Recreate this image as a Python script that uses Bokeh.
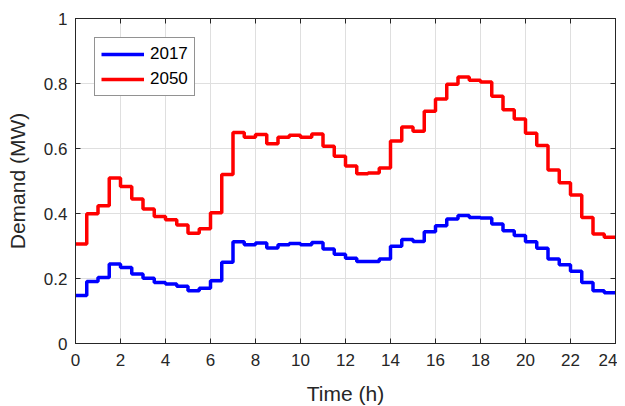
import numpy as np
from bokeh.plotting import figure
from bokeh.models import LinearAxis, FixedTicker, Legend, LegendItem, Range1d, CustomJSTickFormatter
from bokeh.embed import file_html
from bokeh.resources import INLINE

# Half-hourly demand (MW), 48 steps from 0 h to 24 h
demand_2017 = [0.148, 0.191, 0.203, 0.245, 0.234, 0.214, 0.201, 0.188, 0.183, 0.176,
               0.162, 0.170, 0.193, 0.250, 0.313, 0.304, 0.309, 0.294, 0.304, 0.308,
               0.304, 0.311, 0.291, 0.275, 0.262, 0.252, 0.252, 0.260, 0.299, 0.320,
               0.314, 0.344, 0.362, 0.383, 0.394, 0.388, 0.386, 0.368, 0.347, 0.332,
               0.313, 0.293, 0.260, 0.242, 0.222, 0.188, 0.162, 0.156]
demand_2050 = [0.306, 0.399, 0.424, 0.509, 0.483, 0.445, 0.414, 0.391, 0.381, 0.365,
               0.339, 0.353, 0.402, 0.520, 0.649, 0.635, 0.643, 0.615, 0.635, 0.641,
               0.635, 0.645, 0.607, 0.576, 0.546, 0.522, 0.525, 0.540, 0.623, 0.666,
               0.653, 0.715, 0.752, 0.798, 0.820, 0.810, 0.805, 0.761, 0.719, 0.691,
               0.647, 0.609, 0.534, 0.495, 0.457, 0.388, 0.337, 0.327]
step_hours = 0.5
x_ticks = [0, 2, 4, 6, 8, 10, 12, 14, 16, 18, 20, 22, 24]
y_ticks = [0, 0.2, 0.4, 0.6, 0.8, 1]
y_tick_labels = ["0", "0.2", "0.4", "0.6", "0.8", "1"]
series_names = ["2017", "2050"]
series_colors = ["#0000ff", "#ff0000"]

FONT = "Liberation Sans"
TXT = "#262626"

p = figure(frame_width=540, frame_height=325, output_backend="svg", toolbar_location=None,
           x_range=Range1d(0, 24), y_range=Range1d(0, 1),
           min_border_left=75, min_border_right=2, min_border_top=18, min_border_bottom=55)
p.background_fill_color = "white"
p.border_fill_color = "white"
p.outline_line_color = TXT
p.outline_line_width = 1

renderers = []
for vals, color in zip([demand_2017, demand_2050], series_colors):
    xs = [i * step_hours for i in range(len(vals) + 1)]
    ys = list(vals) + [vals[-1]]
    r = p.step(xs, ys, mode="after", line_color=color, line_width=3.5)
    renderers.append(r)

def style_axis(ax, labels=True):
    ax.axis_line_color = TXT
    ax.major_tick_line_color = TXT
    ax.major_tick_in = 5
    ax.major_tick_out = 0
    ax.minor_tick_line_color = None
    ax.major_label_text_font = FONT
    ax.major_label_text_color = TXT
    ax.axis_label_text_font = FONT
    ax.axis_label_text_color = TXT
    ax.axis_label_text_font_style = "normal"
    ax.major_label_text_font_size = "17px"
    ax.axis_label_text_font_size = "21px"
    if not labels:
        ax.formatter = CustomJSTickFormatter(code="return '';")
        ax.major_label_standoff = 0

p.xaxis.ticker = FixedTicker(ticks=x_ticks)
p.yaxis.ticker = FixedTicker(ticks=y_ticks)
p.yaxis.major_label_overrides = {t: l for t, l in zip(y_ticks, y_tick_labels)}
p.xaxis.axis_label = "Time (h)"
p.yaxis.axis_label = "Demand (MW)"
style_axis(p.xaxis[0])
style_axis(p.yaxis[0])
p.xaxis.major_label_standoff = 10
p.yaxis.major_label_standoff = 8
p.xaxis.axis_label_standoff = 13
p.yaxis.axis_label_standoff = 12

top = LinearAxis(ticker=FixedTicker(ticks=x_ticks))
right = LinearAxis(ticker=FixedTicker(ticks=y_ticks))
style_axis(top, labels=False)
style_axis(right, labels=False)
p.add_layout(top, "above")
p.add_layout(right, "right")

p.xgrid.ticker = FixedTicker(ticks=x_ticks)
p.ygrid.ticker = FixedTicker(ticks=y_ticks)
p.grid.grid_line_color = "#dfdfdf"
p.grid.grid_line_width = 1

legend = Legend(items=[LegendItem(label=n, renderers=[r]) for n, r in zip(series_names, renderers)],
                location="top_left", margin=19, padding=6, spacing=5,
                glyph_width=43, glyph_height=20, label_standoff=6,
                label_text_font=FONT, label_text_font_size="17px", label_text_color="black",
                border_line_color=TXT, border_line_width=1, background_fill_color="white",
                background_fill_alpha=1)
p.add_layout(legend)

open("out.html", "w").write(file_html(p, INLINE))
